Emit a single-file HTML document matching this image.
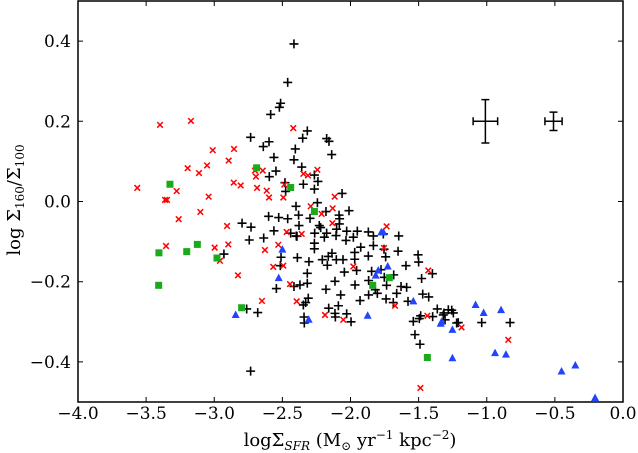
<!DOCTYPE html>
<html><head><meta charset="utf-8"><style>
body{margin:0;background:#fff}
svg{display:block;font-family:"DejaVu Serif","Liberation Serif",serif}
</style></head><body>
<svg id="c" width="638" height="453" xmlns="http://www.w3.org/2000/svg"></svg>
<script>
const blackX=[-2.415,-2.461,-2.513,-2.522,-2.586,-2.733,-2.640,-2.598,-2.405,-2.415,-2.317,-2.351,-2.175,-2.158,-2.138,-2.562,-2.358,-2.596,-2.547,-2.265,-2.239,-2.346,-2.481,-2.476,-2.265,-2.062,-2.400,-2.243,-2.180,-2.084,-2.011,-2.601,-2.527,-2.461,-2.381,-2.297,-2.378,-2.229,-2.219,-2.080,-2.082,-2.102,-2.796,-2.730,-2.562,-2.439,-2.398,-2.263,-2.175,-2.106,-2.028,-1.950,-1.869,-2.743,-2.637,-2.393,-2.265,-2.192,-2.033,-1.979,-1.832,-1.646,-1.759,-2.265,-2.136,-2.163,-2.207,-2.104,-2.055,-1.969,-1.925,-1.832,-1.754,-1.651,-1.969,-1.869,-1.742,-2.510,-2.390,-2.305,-2.929,-2.170,-2.317,-2.045,-1.955,-1.845,-1.776,-1.683,-1.593,-1.500,-1.504,-1.399,-1.478,-2.515,-2.371,-2.317,-2.415,-2.544,-2.180,-2.114,-1.967,-1.867,-1.752,-1.818,-1.735,-1.629,-1.588,-1.661,-1.867,-1.803,-2.072,-2.329,-2.346,-2.310,-1.930,-1.739,-1.686,-1.578,-1.470,-1.426,-2.160,-2.089,-2.114,-2.028,-2.111,-1.996,-2.341,-2.339,-2.681,-2.762,-1.363,-1.282,-1.314,-1.245,-1.539,-1.495,-1.485,-1.397,-1.306,-1.221,-1.527,-1.490,-2.733,-1.319,-1.257,-1.209,-1.037,-0.829];
const blackY=[0.393,0.297,0.245,0.235,0.217,0.160,0.137,0.149,0.131,0.104,0.176,0.158,0.157,0.150,0.117,0.110,0.086,0.062,0.076,0.066,0.050,0.043,0.047,0.025,0.031,0.020,-0.012,-0.003,-0.025,-0.034,-0.023,-0.037,-0.040,-0.043,-0.034,-0.042,-0.060,-0.060,-0.065,-0.043,-0.056,-0.069,-0.054,-0.064,-0.073,-0.079,-0.086,-0.079,-0.079,-0.085,-0.074,-0.074,-0.076,-0.096,-0.091,-0.087,-0.104,-0.089,-0.097,-0.089,-0.086,-0.086,-0.081,-0.118,-0.129,-0.137,-0.145,-0.145,-0.145,-0.127,-0.114,-0.110,-0.119,-0.124,-0.144,-0.136,-0.138,-0.139,-0.140,-0.150,-0.131,-0.159,-0.179,-0.176,-0.172,-0.174,-0.170,-0.183,-0.160,-0.151,-0.133,-0.180,-0.192,-0.160,-0.208,-0.204,-0.212,-0.217,-0.219,-0.199,-0.208,-0.197,-0.189,-0.220,-0.209,-0.212,-0.214,-0.229,-0.233,-0.229,-0.233,-0.252,-0.258,-0.241,-0.247,-0.243,-0.252,-0.249,-0.231,-0.238,-0.266,-0.260,-0.279,-0.280,-0.288,-0.300,-0.288,-0.303,-0.277,-0.268,-0.268,-0.270,-0.278,-0.278,-0.299,-0.292,-0.285,-0.287,-0.295,-0.303,-0.332,-0.356,-0.423,-0.283,-0.271,-0.302,-0.302,-0.302];
const redX=[-3.398,-3.171,-3.011,-2.855,-2.894,-3.195,-3.053,-3.112,-3.565,-3.276,-2.857,-2.806,-3.361,-3.347,-3.041,-3.261,-3.102,-2.906,-3.354,-2.997,-2.897,-2.958,-2.826,-2.650,-2.628,-2.567,-2.701,-2.644,-2.694,-2.686,-2.615,-2.598,-2.530,-2.420,-2.486,-2.493,-2.346,-2.312,-2.243,-2.116,-2.292,-2.212,-2.131,-2.133,-2.469,-2.358,-2.493,-2.444,-2.395,-2.187,-2.053,-1.979,-1.754,-1.735,-1.673,-1.429,-1.436,-1.185,-0.842,-1.487];
const redY=[0.191,0.201,0.128,0.131,0.102,0.083,0.090,0.071,0.034,0.026,0.047,0.040,0.004,0.004,0.012,-0.044,-0.026,-0.061,-0.111,-0.115,-0.107,-0.148,-0.184,-0.248,-0.121,-0.163,0.077,0.077,0.062,0.034,0.027,0.010,-0.108,0.183,0.042,0.010,0.069,0.065,0.079,0.012,-0.012,-0.031,-0.017,-0.054,-0.076,-0.081,-0.160,-0.206,-0.249,-0.283,-0.295,-0.162,-0.116,-0.062,-0.260,-0.172,-0.285,-0.314,-0.345,-0.465];
const greenX=[-2.689,-3.325,-3.406,-3.202,-3.124,-2.980,-3.408,-2.799,-2.439,-2.265,-1.837,-1.715,-1.436];
const greenY=[0.084,0.043,-0.128,-0.125,-0.107,-0.141,-0.209,-0.265,0.035,-0.025,-0.209,-0.190,-0.389];
const blueX=[-2.843,-2.500,-2.527,-2.307,-1.874,-1.774,-1.759,-1.727,-1.796,-1.815,-1.539,-1.338,-1.252,-1.252,-1.331,-1.082,-1.023,-0.895,-0.939,-0.859,-0.451,-0.350,-0.205];
const blueY=[-0.283,-0.120,-0.191,-0.295,-0.285,-0.077,-0.077,-0.162,-0.172,-0.185,-0.249,-0.305,-0.320,-0.391,-0.300,-0.258,-0.278,-0.271,-0.378,-0.382,-0.424,-0.409,-0.490];
const errX=[-1.01,-0.51], errY=[0.2,0.2], errDX=[0.09,0.063], errDY=[0.054,0.023];
const xTicks=[-4.0,-3.5,-3.0,-2.5,-2.0,-1.5,-1.0,-0.5,0.0];
const yTicks=[0.4,0.2,0.0,-0.2,-0.4];

const L=78,R=623,T=1,B=402;
const sx=v=>L+(v+4)/4*(R-L);
const sy=v=>T+(0.5-v)*(B-T);
const svg=document.getElementById('c');
const NS='http://www.w3.org/2000/svg';
function mk(tag,attrs,parent){const e=document.createElementNS(NS,tag);for(const k in attrs)e.setAttribute(k,attrs[k]);(parent||svg).appendChild(e);return e;}

const gB=mk('g',{});


blackX.forEach((v,i)=>{const x=sx(v),y=sy(blackY[i]);
 const p=mk('path',{d:`M${x-4.5},${y}H${x+4.5}M${x},${y-4.5}V${y+4.5}`,stroke:'#000','stroke-width':1.6,fill:'none'},gB);
 
 });
const gR=mk('g',{});


redX.forEach((v,i)=>{const x=sx(v),y=sy(redY[i]);
 const p=mk('path',{d:`M${x-2.8},${y-2.8}L${x+2.8},${y+2.8}M${x-2.8},${y+2.8}L${x+2.8},${y-2.8}`,stroke:'#f00','stroke-width':1.5,fill:'none'},gR);
 
 });
const gG=mk('g',{});


greenX.forEach((v,i)=>{const x=sx(v),y=sy(greenY[i]);
 const p=mk('rect',{x:x-3.5,y:y-3.5,width:7,height:7,fill:'#1aaa1a'},gG);
 
 });
const gU=mk('g',{});


blueX.forEach((v,i)=>{const x=sx(v),y=sy(blueY[i]);
 const p=mk('path',{d:`M${x},${y-4.5}L${x+4},${y+3}L${x-4},${y+3}Z`,fill:'#2244ff'},gU);
 
 });
errX.forEach((v,i)=>{const x=sx(v),y=sy(errY[i]);const x1=sx(v-errDX[i]),x2=sx(v+errDX[i]),y1=sy(errY[i]+errDY[i]),y2=sy(errY[i]-errDY[i]);
 const p=mk('path',{d:`M${x1},${y}H${x2}M${x},${y1}V${y2}M${x1},${y-4}V${y+4}M${x2},${y-4}V${y+4}M${x-4},${y1}H${x+4}M${x-4},${y2}H${x+4}`,stroke:'#000','stroke-width':1.5,fill:'none'});
 
 });

const ax=mk('rect',{x:L,y:T,width:R-L,height:B-T,fill:'none',stroke:'#000','stroke-width':1.5});


xTicks.forEach(v=>{const x=sx(v);
 mk('path',{d:`M${x},${B}v-5M${x},${T}v5`,stroke:'#000','stroke-width':1});
 const t=mk('text',{x:x,y:419,'text-anchor':'middle','font-size':17});
 t.textContent=(v<0?'\u2212':'')+Math.abs(v).toFixed(1);
 
 });
yTicks.forEach(v=>{const y=sy(v);
 mk('path',{d:`M${L},${y}h5M${R},${y}h-5`,stroke:'#000','stroke-width':1});
 const t=mk('text',{x:71,y:y+6,'text-anchor':'end','font-size':17});
 t.textContent=(v<0?'\u2212':'')+Math.abs(v).toFixed(1);
 
 });
</script>
<svg style="position:absolute;left:0;top:0" width="638" height="453" xmlns="http://www.w3.org/2000/svg">
<text x="350" y="446" text-anchor="middle" font-family="DejaVu Serif,serif" font-size="18">logΣ<tspan font-style="italic" font-size="12" dy="4">SFR</tspan><tspan dy="-4"> (M</tspan><tspan font-size="12" dy="4">⊙</tspan><tspan dy="-4"> yr</tspan><tspan font-size="12" dy="-7">−1</tspan><tspan dy="7"> kpc</tspan><tspan font-size="12" dy="-7">−2</tspan><tspan dy="7">)</tspan></text>
<text transform="translate(20,200) rotate(-90)" text-anchor="middle" font-family="DejaVu Serif,serif" font-size="18">log Σ<tspan font-size="12" dy="4">160</tspan><tspan dy="-4">/Σ</tspan><tspan font-size="12" dy="4">100</tspan></text>
</svg>
</body></html>
